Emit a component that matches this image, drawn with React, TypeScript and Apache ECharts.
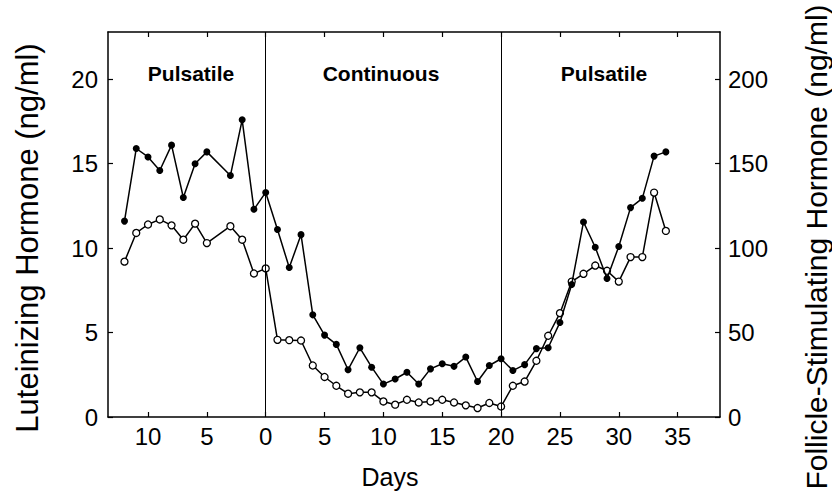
import React, { useEffect, useRef } from "react";
import * as echarts from "echarts";

// Day of experiment (negative = days before switch to continuous infusion)
const days = [
  -12, -11, -10, -9, -8, -7, -6, -5, -3, -2, -1, 0, 1, 2, 3, 4, 5, 6, 7, 8, 9, 10,
  11, 12, 13, 14, 15, 16, 17, 18, 19, 20, 21, 22, 23, 24, 25, 26, 27, 28, 29, 30,
  31, 32, 33, 34,
];

// Luteinizing hormone (ng/ml) – filled circles, left axis
const lhValues = [
  11.6, 15.9, 15.4, 14.6, 16.1, 13.0, 15.0, 15.7, 14.3, 17.6, 12.3, 13.3, 11.1, 8.85,
  10.8, 6.05, 4.85, 4.3, 2.8, 4.1, 2.95, 1.95, 2.25, 2.65, 1.95, 2.85, 3.15, 3.0, 3.55,
  2.1, 3.05, 3.45, 2.75, 3.1, 4.05, 4.1, 5.6, 7.85, 11.55, 10.05, 8.2, 10.1, 12.4,
  12.95, 15.45, 15.7,
];

// Follicle-stimulating hormone (ng/ml) – open circles, right axis
const fshValues = [
  92, 109, 114, 117, 113.5, 105, 114.5, 103, 113, 105, 85, 88, 45.7, 45.5, 45.3, 30.5,
  23.7, 18.5, 13.8, 14.6, 14.6, 9.2, 7.3, 10.2, 8.6, 9.2, 10.2, 8.6, 6.9, 5.3, 8.3, 6.2,
  18.5, 21, 33.3, 48.1, 61.5, 80.2, 84.8, 89.7, 86.6, 80.2, 94.7, 94.7, 132.9, 110.2,
];

const xTickValues = [-10, -5, 0, 5, 10, 15, 20, 25, 30, 35];
const lhTickValues = [0, 5, 10, 15, 20];
const fshTickValues = [0, 50, 100, 150, 200];
const phaseBoundaries = [0, 20];
const phaseNames = ["Pulsatile", "Continuous", "Pulsatile"];

const FONT = "'Liberation Sans', Arial, Helvetica, sans-serif";

export default function App() {
  const ref = useRef<HTMLDivElement>(null);

  useEffect(() => {
    if (!ref.current) return;
    const chart = echarts.init(ref.current, undefined, { renderer: "svg" });

    const axisLine = { show: true, onZero: false, lineStyle: { color: "#000", width: 1.5 } };
    const tickStyle = { color: "#000", width: 1.2 };
    const labelStyle = { fontSize: 24, color: "#000", fontFamily: FONT };

    const phaseX = [191, 381, 604];

    const option = {
      animation: false,
      backgroundColor: "#fff",
      grid: { left: 108, right: 112, top: 32, bottom: 77 },
      xAxis: [
        {
          type: "value",
          min: -13.4,
          max: 38.6,
          position: "bottom",
          axisLine,
          axisTick: { show: true, inside: true, length: 5, customValues: xTickValues, lineStyle: tickStyle },
          axisLabel: {
            ...labelStyle,
            customValues: xTickValues,
            margin: 7,
            formatter: (v: number) => String(Math.abs(v)),
          },
          splitLine: { show: false },
        },
        {
          type: "value",
          min: -13.4,
          max: 38.6,
          position: "top",
          axisLine,
          axisTick: { show: true, inside: true, length: 5, customValues: xTickValues, lineStyle: tickStyle },
          axisLabel: { show: false },
          splitLine: { show: false },
        },
      ],
      yAxis: [
        {
          type: "value",
          min: 0,
          max: 22.8,
          position: "left",
          axisLine,
          axisTick: { show: true, inside: true, length: 5, customValues: lhTickValues, lineStyle: tickStyle },
          axisLabel: { ...labelStyle, customValues: lhTickValues, margin: 10 },
          splitLine: { show: false },
        },
        {
          type: "value",
          min: 0,
          max: 228,
          position: "right",
          axisLine,
          axisTick: { show: true, inside: true, length: 5, customValues: fshTickValues, lineStyle: tickStyle },
          axisLabel: { ...labelStyle, customValues: fshTickValues, margin: 8 },
          splitLine: { show: false },
        },
      ],
      series: [
        {
          type: "line",
          name: "FSH",
          xAxisIndex: 0,
          yAxisIndex: 1,
          data: days.map((d, i) => [d, fshValues[i]]),
          symbol: "circle",
          symbolSize: 7,
          lineStyle: { color: "#000", width: 1.5 },
          itemStyle: { color: "#fff", borderColor: "#000", borderWidth: 1.3 },
          z: 3,
        },
        {
          type: "line",
          name: "LH",
          xAxisIndex: 0,
          yAxisIndex: 0,
          data: days.map((d, i) => [d, lhValues[i]]),
          symbol: "circle",
          symbolSize: 7,
          lineStyle: { color: "#000", width: 1.5 },
          itemStyle: { color: "#000" },
          z: 4,
          markLine: {
            silent: true,
            symbol: "none",
            label: { show: false },
            lineStyle: { color: "#000", width: 1, type: "solid" },
            data: phaseBoundaries.map((d) => ({ xAxis: d })),
          },
        },
      ],
      graphic: [
        ...phaseNames.map((name, i) => ({
          type: "text",
          x: phaseX[i],
          y: 73,
          style: {
            text: name,
            fontSize: 21,
            fontWeight: "bold",
            fontFamily: FONT,
            fill: "#000",
            textAlign: "center",
            textVerticalAlign: "middle",
          },
        })),
        {
          type: "text",
          x: 390,
          y: 477,
          style: {
            text: "Days",
            fontSize: 25,
            fontFamily: FONT,
            fill: "#000",
            textAlign: "center",
            textVerticalAlign: "middle",
          },
        },
        {
          type: "text",
          x: 27,
          y: 238,
          rotation: Math.PI / 2,
          style: {
            text: "Luteinizing Hormone (ng/ml)",
            fontSize: 31,
            fontFamily: FONT,
            fill: "#000",
            textAlign: "center",
            textVerticalAlign: "middle",
          },
        },
        {
          type: "text",
          x: 816,
          y: 247,
          rotation: Math.PI / 2,
          style: {
            text: "Follicle-Stimulating Hormone (ng/ml)",
            fontSize: 30,
            fontFamily: FONT,
            fill: "#000",
            textAlign: "center",
            textVerticalAlign: "middle",
          },
        },
      ],
    };

    chart.setOption(option as any);
    return () => chart.dispose();
  }, []);

  return (
    <div
      ref={ref}
      style={{ position: "fixed", left: 0, top: 0, width: 832, height: 494, background: "#fff" }}
    />
  );
}
